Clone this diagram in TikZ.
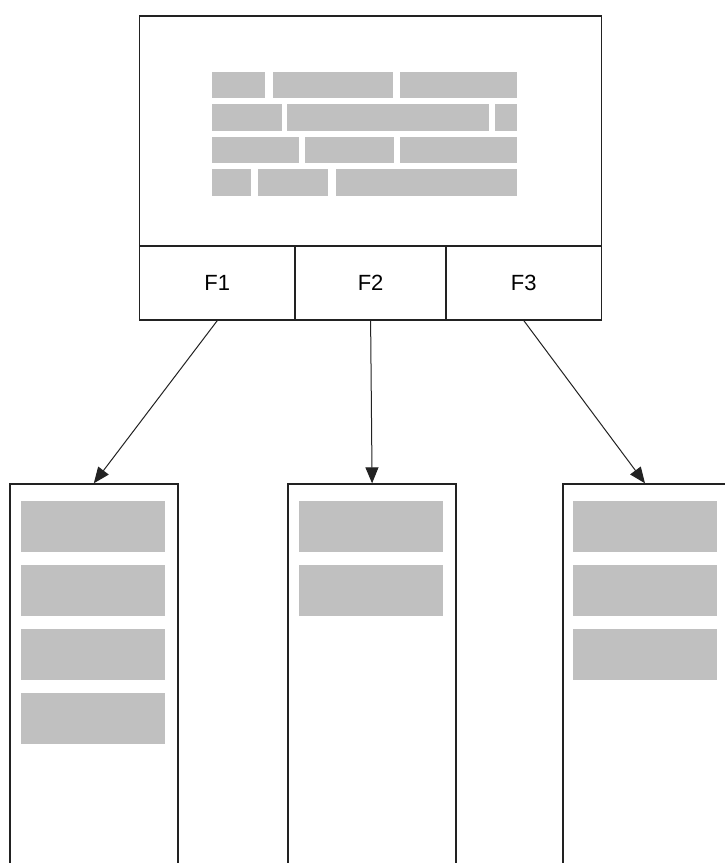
\documentclass[tikz,border=0pt]{standalone}
\usepackage{fontspec}
\setmainfont{Liberation Sans}
\usetikzlibrary{arrows.meta}
\definecolor{bar}{HTML}{C0C0C0}
\definecolor{edge}{HTML}{222222}
\begin{document}
\begin{tikzpicture}[x=1pt,y=-1pt,
  box/.style={draw=edge,line width=1.6pt,fill=white,inner sep=0pt,anchor=north west},
  fcell/.style={box,minimum height=74pt,font=\fontsize{22}{24}\selectfont},
  col/.style={box,minimum width=168pt,minimum height=420pt},
  bar/.style={fill=bar,draw=none},
  arr/.style={draw=edge,line width=1pt,-{Triangle[length=16pt,width=13pt]}}]
\useasboundingbox (0,0) rectangle (725,863);
\clip (0,0) rectangle (725,863);
\fill[white] (0,0) rectangle (725,863);
% top window
\node[box,minimum width=462pt,minimum height=230pt] (screen) at (138.5,15) {};
\node[fcell,minimum width=156pt] (f1) at (138.5,245) {F1};
\node[fcell,minimum width=151pt] (f2) at (294.3,245) {F2};
\node[fcell,minimum width=155.4pt] (f3) at (445.3,245) {F3};
% text bars
\fill[bar] (212,71.7) rectangle (265,98.3);
\fill[bar] (272.7,71.7) rectangle (392.7,98.3);
\fill[bar] (400.3,71.7) rectangle (516.7,98.3);
\fill[bar] (212,104.3) rectangle (282,130.7);
\fill[bar] (287.3,104.3) rectangle (488.7,130.7);
\fill[bar] (494.7,104.3) rectangle (516.7,130.7);
\fill[bar] (212,136.7) rectangle (298.7,163.3);
\fill[bar] (305.3,136.7) rectangle (394,163.3);
\fill[bar] (400.3,136.7) rectangle (516.7,163.3);
\fill[bar] (212,169.3) rectangle (251.3,196);
\fill[bar] (258.3,169.3) rectangle (328.3,196);
\fill[bar] (335.7,169.3) rectangle (516.7,196);
% bottom columns
\node[col] (b1) at (9,483.3) {};
\node[col] (b2) at (287.3,483.3) {};
\node[col,minimum width=190pt] (b3) at (562,483.3) {};
% column bars
\foreach \y in {500.7,564.7,628.7,692.7}
  \fill[bar] (21,\y) rectangle (165,\y+51.6);
\foreach \y in {500.7,564.7}
  \fill[bar] (299,\y) rectangle (443.3,\y+51.6);
\foreach \y in {500.7,564.7,628.7}
  \fill[bar] (573.3,\y) rectangle (717.3,\y+51.6);
% arrows
\draw[arr] (f1.south) -- (b1.north);
\draw[arr] (f2.south) -- (b2.north);
\draw[arr] (f3.south) -- ([xshift=83pt]b3.north west);
\end{tikzpicture}
\end{document}
